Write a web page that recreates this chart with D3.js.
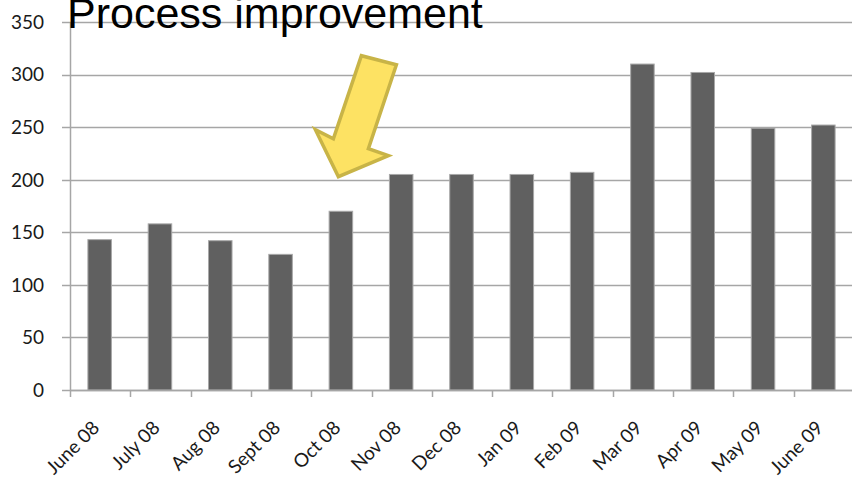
<!DOCTYPE html>
<html>
<head>
<meta charset="utf-8">
<script src="https://cdn.jsdelivr.net/npm/d3@7"></script>
<style>
  html, body { margin: 0; padding: 0; background: #fff; }
  svg { display: block; }
</style>
</head>
<body>
<svg id="chart" width="852" height="481"></svg>
<script>
// Monthly volumes, June 2008 – June 2009
const months = ["June 08", "July 08", "Aug 08", "Sept 08", "Oct 08", "Nov 08", "Dec 08",
                "Jan 09", "Feb 09", "Mar 09", "Apr 09", "May 09", "June 09"];
const volumes = [143, 158, 142, 129, 170, 205, 205, 205, 207, 310, 302, 249, 252];
const yTicks = [0, 50, 100, 150, 200, 250, 300, 350];
const titleText = "Process improvement";
const markedMonth = "Oct 08";

const svg = d3.select("#chart");
const plotLeft = 70, plotRight = 854, plotTop = 22, plotBottom = 390;

const x = d3.scaleBand().domain(months).range([plotLeft, plotRight]);
const y = d3.scaleLinear().domain([0, 350]).range([plotBottom, plotTop]);

const grid = "#a6a6a6";
const labelFont = "Lato, 'Open Sans', sans-serif";

// horizontal gridlines + y tick marks
svg.append("g")
  .selectAll("line")
  .data(yTicks)
  .join("line")
  .attr("x1", plotLeft - 8).attr("x2", 852)
  .attr("y1", d => Math.round(y(d)) + 0.5).attr("y2", d => Math.round(y(d)) + 0.5)
  .attr("stroke", grid).attr("stroke-width", 1.5);

// y axis line
svg.append("line")
  .attr("x1", plotLeft + 0.5).attr("x2", plotLeft + 0.5)
  .attr("y1", y(350)).attr("y2", plotBottom + 7)
  .attr("stroke", grid).attr("stroke-width", 1.5);

// y tick labels
svg.append("g")
  .selectAll("text")
  .data(yTicks)
  .join("text")
  .attr("x", 44)
  .attr("y", d => y(d))
  .attr("dy", "0.36em")
  .attr("text-anchor", "end")
  .attr("font-family", labelFont)
  .attr("font-size", 19)
  .attr("fill", "#1a1a1a")
  .text(d => d);

// category tick marks
svg.append("g")
  .selectAll("line")
  .data(months.slice(1))
  .join("line")
  .attr("x1", d => Math.round(x(d)) + 0.5).attr("x2", d => Math.round(x(d)) + 0.5)
  .attr("y1", plotBottom).attr("y2", plotBottom + 7)
  .attr("stroke", grid).attr("stroke-width", 1.5);

// bars
const barW = x.bandwidth() * 0.39;
svg.append("g")
  .selectAll("rect")
  .data(months)
  .join("rect")
  .attr("x", d => x(d) + (x.bandwidth() - barW) / 2 - 0.5)
  .attr("y", (d, i) => y(volumes[i]))
  .attr("width", barW)
  .attr("height", (d, i) => plotBottom - y(volumes[i]))
  .attr("fill", "#606060")
  .attr("stroke", "#a8a8a8")
  .attr("stroke-width", 1);

// rotated month labels
svg.append("g")
  .selectAll("text")
  .data(months)
  .join("text")
  .attr("transform", d => `translate(${x(d) + x.bandwidth() / 2 + 0.5},${plotBottom + 39}) rotate(-45)`)
  .attr("text-anchor", "end")
  .attr("font-family", labelFont)
  .attr("font-size", 19)
  .attr("fill", "#1a1a1a")
  .text(d => d);

// bottom axis line
svg.append("line")
  .attr("x1", plotLeft).attr("x2", 852)
  .attr("y1", plotBottom + 0.5).attr("y2", plotBottom + 0.5)
  .attr("stroke", grid).attr("stroke-width", 1.5);

// title
svg.append("text")
  .attr("x", 67).attr("y", 28)
  .attr("font-family", "'Liberation Sans', Arial, sans-serif")
  .attr("font-size", 43)
  .attr("fill", "#000")
  .text(titleText);

// callout arrow pointing at the month the change was introduced
const tipX = x(markedMonth) + x.bandwidth() / 2 - 3;
const tipY = y(200) - 3;
const arrowShape = [
  [0, 0], [-23, -47], [-5, -38], [23, -121], [58, -112], [30, -28], [50, -21]
];
svg.append("polygon")
  .attr("points", arrowShape.map(([dx, dy]) => [tipX + dx, tipY + dy].join(",")).join(" "))
  .attr("fill", "#fde263")
  .attr("stroke", "#c8b447")
  .attr("stroke-width", 3.5)
  .attr("stroke-linejoin", "miter");
</script>
</body>
</html>
